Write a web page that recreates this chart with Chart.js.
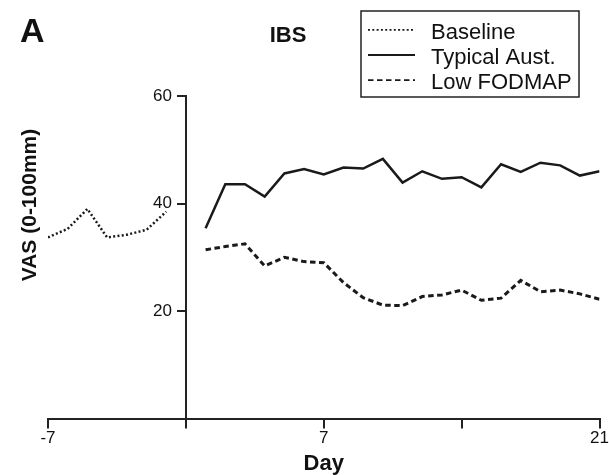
<!DOCTYPE html>
<html>
<head>
<meta charset="utf-8">
<script src="https://cdn.jsdelivr.net/npm/chart.js@4.4.1/dist/chart.umd.min.js"></script>
<style>
  html, body { margin: 0; padding: 0; background: #fff; }
</style>
</head>
<body>
<canvas id="myChart" width="609" height="475"></canvas>
<script>
// values (VAS 0-100mm by study day)
var baselineDays = [-7, -6, -5, -4, -3, -2, -1];
var baselineVas = [33.7, 35.3, 39.0, 33.7, 34.2, 35.1, 38.5];

var dietDays = [1, 2, 3, 4, 5, 6, 7, 8, 9, 10, 11, 12, 13, 14, 15, 16, 17, 18, 19, 20, 21];
var typicalVas = [35.4, 43.6, 43.6, 41.3, 45.6, 46.4, 45.4, 46.7, 46.5, 48.3, 43.9,
                  46.0, 44.6, 44.9, 43.0, 47.3, 45.9, 47.6, 47.1, 45.2, 46.0];
var lowFodmapVas = [31.4, 32.0, 32.5, 28.4, 30.0, 29.2, 29.0, 25.3, 22.5, 21.1, 21.0,
                    22.7, 23.0, 23.9, 22.0, 22.4, 25.7, 23.6, 23.9, 23.2, 22.2];

var xTicks = [-7, 0, 7, 14, 21];
var xTickLabels = ['-7', '', '7', '', '21'];
var yTicks = [20, 40, 60];

var FONT = "'Liberation Sans', Arial, Helvetica, sans-serif";
Chart.defaults.font.family = FONT;
Chart.defaults.color = '#111';

function toPoints(xs, ys) {
  return xs.map(function (x, i) { return { x: x, y: ys[i] }; });
}

// the y axis sits at day 0; chart.js puts its labels right on the line, so nudge them left
var yLabelShift = {
  id: 'yLabelShift',
  beforeDraw: function (chart) {
    var scale = chart.scales.y;
    if (scale._shifted) return;
    scale._shifted = true;
    var orig = scale.drawLabels;
    scale.drawLabels = function (area) {
      var ctx = this.ctx;
      ctx.save();
      ctx.translate(-(this.options.grid.tickLength + this.options.ticks.padding), 0);
      orig.call(this, area);
      ctx.restore();
    };
  }
};

// panel letter, title, y title and the boxed legend
var decorations = {
  id: 'decorations',
  afterDraw: function (chart) {
    var ctx = chart.ctx;
    ctx.save();
    ctx.fillStyle = '#111';
    ctx.textBaseline = 'alphabetic';

    ctx.font = 'bold 34px ' + FONT;
    ctx.textAlign = 'left';
    ctx.fillText('A', 20, 42);

    ctx.font = 'bold 22px ' + FONT;
    ctx.textAlign = 'center';
    ctx.fillText('IBS', 288, 42);

    ctx.save();
    ctx.translate(36, 205);
    ctx.rotate(-Math.PI / 2);
    ctx.font = 'bold 21px ' + FONT;
    ctx.fillText('VAS (0-100mm)', 0, 0);
    ctx.restore();

    // legend box
    ctx.lineWidth = 1.5;
    ctx.strokeStyle = '#222';
    ctx.setLineDash([]);
    ctx.strokeRect(361, 11, 218, 86);

    ctx.font = '22px ' + FONT;
    ctx.textAlign = 'left';
    chart.data.datasets.forEach(function (ds, i) {
      var base = 38.8 + 25.2 * i;
      ctx.beginPath();
      ctx.setLineDash(ds.borderDash || []);
      ctx.lineWidth = 1.8;
      ctx.strokeStyle = ds.borderColor;
      ctx.moveTo(368, base - 9);
      ctx.lineTo(415, base - 9);
      ctx.stroke();
      ctx.setLineDash([]);
      ctx.fillText(ds.label, 431, base);
    });
    ctx.restore();
  }
};

new Chart(document.getElementById('myChart'), {
  type: 'line',
  data: {
    datasets: [
      {
        label: 'Baseline',
        data: toPoints(baselineDays, baselineVas),
        borderColor: '#1a1a1a',
        borderWidth: 2.5,
        borderDash: [2, 2.3]
      },
      {
        label: 'Typical Aust.',
        data: toPoints(dietDays, typicalVas),
        borderColor: '#1a1a1a',
        borderWidth: 2.5
      },
      {
        label: 'Low FODMAP',
        data: toPoints(dietDays, lowFodmapVas),
        borderColor: '#1a1a1a',
        borderWidth: 3,
        borderDash: [5.5, 3.5]
      }
    ]
  },
  options: {
    responsive: false,
    animation: false,
    devicePixelRatio: 1,
    layout: { padding: { left: 48, right: 8, top: 96, bottom: 0 } },
    elements: {
      point: { radius: 0 },
      line: { tension: 0, borderCapStyle: 'butt' }
    },
    plugins: {
      legend: { display: false },
      tooltip: { enabled: false }
    },
    scales: {
      x: {
        type: 'linear',
        min: -7,
        max: 21,
        afterBuildTicks: function (scale) {
          scale.ticks = xTicks.map(function (v) { return { value: v }; });
        },
        ticks: {
          autoSkip: false,
          maxRotation: 0,
          padding: 0,
          font: { size: 17 },
          color: '#111',
          callback: function (value, index) { return xTickLabels[index]; }
        },
        grid: { drawOnChartArea: false, tickLength: 10, color: '#222', lineWidth: 2 },
        border: { color: '#222', width: 2 },
        title: {
          display: true,
          text: 'Day',
          font: { size: 22, weight: 'bold', lineHeight: 1 },
          color: '#111',
          padding: { top: 4, bottom: 0 }
        }
      },
      y: {
        type: 'linear',
        position: { x: 0 },
        min: 0,
        max: 60,
        afterBuildTicks: function (scale) {
          scale.ticks = yTicks.map(function (v) { return { value: v }; });
        },
        ticks: { padding: 6, font: { size: 17 }, color: '#111' },
        grid: { drawOnChartArea: false, tickLength: 8, color: '#222', lineWidth: 2 },
        border: { color: '#222', width: 2 }
      }
    }
  },
  plugins: [yLabelShift, decorations]
});
</script>
</body>
</html>
